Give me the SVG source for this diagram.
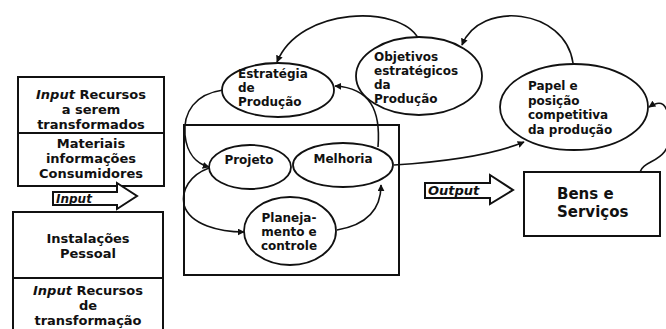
<svg xmlns="http://www.w3.org/2000/svg" width="666" height="329" viewBox="0 0 666 329">
<defs>
<marker id="ah" viewBox="0 0 10 10" refX="9" refY="5" markerWidth="7" markerHeight="7" orient="auto" markerUnits="userSpaceOnUse">
<path d="M0,0 L10,5 L0,10 Z" fill="#111"/>
</marker>
<style>
.b{fill:#fff;stroke:#111;stroke-width:2}
.e{fill:#fff;stroke:#111;stroke-width:1.8}
.c{fill:none;stroke:#111;stroke-width:1.6}
text{font-family:"DejaVu Sans","Liberation Sans",sans-serif;font-weight:bold;fill:#111}
.l{font-size:13px;text-anchor:middle}
.s{font-size:12px}
.i{font-style:italic}
</style>
</defs>
<rect width="666" height="329" fill="#fff"/>

<g id="connectors">
<path class="c" d="M418 38 C400 5,300 6,277 62" marker-end="url(#ah)"/>
<path class="c" d="M573 63 C565 8,480 0,462 45" marker-end="url(#ah)"/>
<path class="c" d="M640 172 C644 158,672 164,670 128 C668 100,660 100,649 107" marker-end="url(#ah)"/>
<path class="c" d="M394 165 C440 162,490 156,524 142" marker-end="url(#ah)"/>
<path class="c" d="M223 90 C195 94,183 112,185 135 C187 155,198 164,209 167" marker-end="url(#ah)"/>
<path class="c" d="M209 168 C190 175,181 190,184 205 C190 225,220 232,244 232" marker-end="url(#ah)"/>
<path class="c" d="M337 230 C366 225,381 210,381 185" marker-end="url(#ah)"/>
<path class="c" d="M378 147 C381 110,370 88,335 86" marker-end="url(#ah)"/>
</g>

<g id="input-recursos-transformados">
<rect class="b" x="18" y="77" width="146" height="109"/>
<line x1="18" y1="133" x2="164" y2="133" stroke="#111" stroke-width="2"/>
<text class="l" x="91" y="99"><tspan class="i">Input</tspan> Recursos</text>
<text class="l" x="91" y="114">a serem</text>
<text class="l" x="91" y="129">transformados</text>
<text class="l" x="91" y="148">Materiais</text>
<text class="l" x="91" y="163">informações</text>
<text class="l" x="91" y="178">Consumidores</text>
</g>

<g id="input-arrow">
<path class="b" d="M53 192 L117 192 L117 183 L137 196 L117 209 L117 205 L53 205 Z" stroke-width="1.6"/>
<text class="i" x="56" y="203" font-size="12">Input</text>
</g>

<g id="input-recursos-transformacao">
<rect class="b" x="13" y="212" width="150" height="125"/>
<line x1="13" y1="278" x2="163" y2="278" stroke="#111" stroke-width="2"/>
<text class="l" x="88" y="243">Instalações</text>
<text class="l" x="88" y="258">Pessoal</text>
<text class="l" x="88" y="295"><tspan class="i">Input</tspan> Recursos</text>
<text class="l" x="88" y="310">de</text>
<text class="l" x="88" y="325">transformação</text>
</g>

<g id="processo">
<rect x="184" y="125" width="215" height="150" fill="none" stroke="#111" stroke-width="2"/>
</g>

<g id="estrategia">
<ellipse class="e" cx="278" cy="90" rx="56" ry="27"/>
<text class="s" x="238" y="78">Estratégia</text>
<text class="s" x="238" y="92">de</text>
<text class="s" x="238" y="106">Produção</text>
</g>

<g id="objetivos">
<ellipse class="e" cx="419" cy="76" rx="63" ry="39"/>
<text class="s" x="374" y="61" font-size="12.5">Objetivos</text>
<text class="s" x="374" y="75" font-size="12.5">estratégicos</text>
<text class="s" x="374" y="89" font-size="12.5">da</text>
<text class="s" x="374" y="103" font-size="12.5">Produção</text>
</g>

<g id="papel">
<ellipse class="e" cx="574" cy="107" rx="74" ry="43"/>
<text class="s" x="528" y="90" font-size="12.5">Papel e</text>
<text class="s" x="528" y="104.5" font-size="12.5">posição</text>
<text class="s" x="528" y="119" font-size="12.5">competitiva</text>
<text class="s" x="528" y="133.5" font-size="12.5">da produção</text>
</g>

<g id="projeto">
<ellipse class="e" cx="250" cy="167" rx="41" ry="22"/>
<text class="s" x="249" y="164" font-size="12.5" text-anchor="middle">Projeto</text>
</g>

<g id="melhoria">
<ellipse class="e" cx="343" cy="165" rx="50" ry="22"/>
<text class="s" x="343" y="163" font-size="12.5" text-anchor="middle">Melhoria</text>
</g>

<g id="planejamento">
<ellipse class="e" cx="290" cy="231" rx="46" ry="34"/>
<text class="s" x="289" y="222" text-anchor="middle">Planeja-</text>
<text class="s" x="289" y="236" text-anchor="middle">mento e</text>
<text class="s" x="289" y="250" text-anchor="middle">controle</text>
</g>

<g id="output-arrow">
<path class="b" d="M425 183 L490 183 L490 175 L513 190 L490 204 L490 198 L425 198 Z" stroke-width="1.6"/>
<text class="i" x="428" y="195" font-size="13">Output</text>
</g>

<g id="bens-servicos">
<rect class="b" x="524" y="172" width="136" height="64"/>
<text x="557" y="199" font-size="15">Bens e</text>
<text x="557" y="217" font-size="15">Serviços</text>
</g>
</svg>
